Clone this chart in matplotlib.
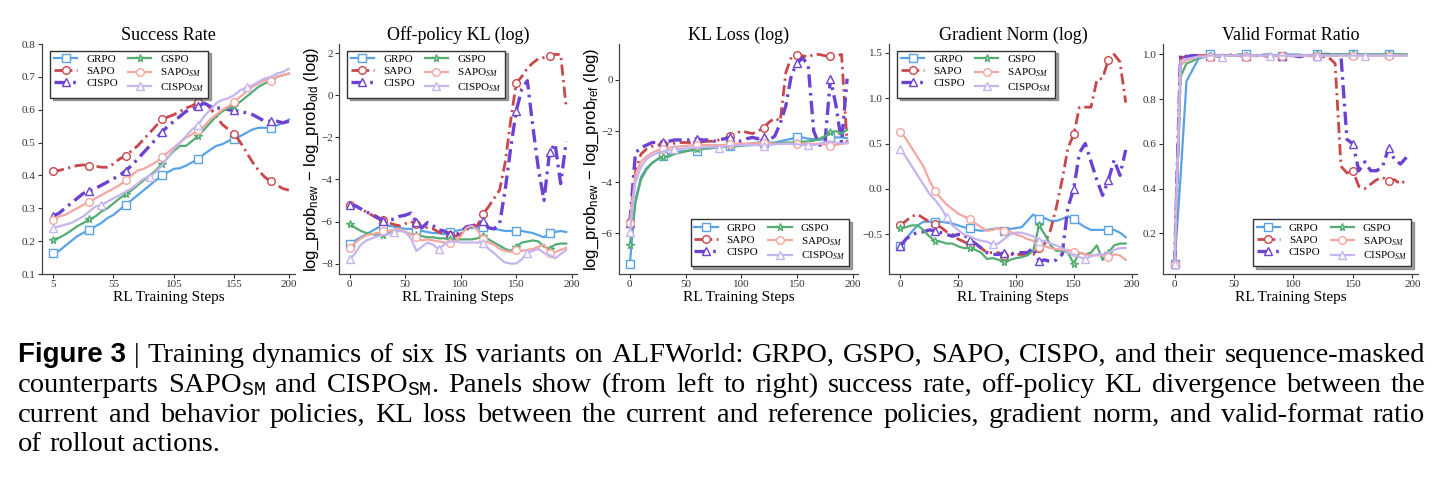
import matplotlib
matplotlib.use("Agg")
import matplotlib.pyplot as plt

plt.rcParams['font.family'] = 'Liberation Serif'
plt.rcParams['mathtext.fontset'] = 'custom'
plt.rcParams['mathtext.rm'] = 'Liberation Serif'
plt.rcParams['mathtext.it'] = 'Liberation Serif:italic'
plt.rcParams['mathtext.sf'] = 'Liberation Sans'
plt.rcParams['mathtext.tt'] = 'Liberation Mono'

# x positions (training steps)
steps_sr = list(range(5, 205, 5))
steps = list(range(0, 200, 5))

methods = ['GRPO', 'SAPO', 'CISPO', 'GSPO', 'SAPO$_{SM}$', 'CISPO$_{SM}$']

# Success Rate
sr_grpo = [0.163, 0.17, 0.185, 0.20, 0.215, 0.225, 0.233, 0.245, 0.255, 0.27,
           0.28, 0.295, 0.31, 0.325, 0.34, 0.355, 0.37, 0.385, 0.40, 0.41,
           0.42, 0.422, 0.43, 0.44, 0.45, 0.465, 0.478, 0.49, 0.495, 0.505,
           0.51, 0.52, 0.53, 0.54, 0.545, 0.545, 0.545, 0.552, 0.56, 0.57]
sr_sapo = [0.415, 0.415, 0.42, 0.425, 0.43, 0.432, 0.429, 0.428, 0.425, 0.425,
           0.435, 0.45, 0.46, 0.475, 0.49, 0.51, 0.53, 0.55, 0.571, 0.578,
           0.585, 0.595, 0.605, 0.612, 0.623, 0.625, 0.605, 0.58, 0.555, 0.54,
           0.526, 0.50, 0.47, 0.44, 0.415, 0.395, 0.382, 0.37, 0.36, 0.355]
sr_cispo = [0.276, 0.285, 0.30, 0.315, 0.33, 0.345, 0.352, 0.36, 0.37, 0.38,
            0.39, 0.40, 0.414, 0.43, 0.45, 0.47, 0.49, 0.51, 0.532, 0.55,
            0.565, 0.58, 0.595, 0.603, 0.61, 0.62, 0.61, 0.605, 0.605, 0.60,
            0.598, 0.595, 0.59, 0.585, 0.575, 0.565, 0.565, 0.565, 0.56, 0.565]
sr_gspo = [0.205, 0.21, 0.22, 0.232, 0.245, 0.255, 0.266, 0.275, 0.29, 0.30,
           0.315, 0.33, 0.342, 0.355, 0.37, 0.385, 0.40, 0.415, 0.435, 0.455,
           0.475, 0.49, 0.49, 0.505, 0.52, 0.54, 0.56, 0.58, 0.595, 0.605,
           0.61, 0.625, 0.64, 0.655, 0.67, 0.68, 0.69, 0.70, 0.705, 0.71]
sr_sapo_sm = [0.265, 0.275, 0.28, 0.29, 0.30, 0.31, 0.32, 0.33, 0.34, 0.35,
              0.36, 0.37, 0.385, 0.40, 0.415, 0.42, 0.43, 0.44, 0.455, 0.47,
              0.485, 0.50, 0.515, 0.525, 0.537, 0.55, 0.57, 0.585, 0.60, 0.61,
              0.625, 0.64, 0.655, 0.67, 0.68, 0.69, 0.688, 0.70, 0.705, 0.71]
sr_cispo_sm = [0.24, 0.245, 0.25, 0.255, 0.265, 0.275, 0.29, 0.305, 0.31, 0.32,
               0.33, 0.34, 0.35, 0.36, 0.375, 0.39, 0.396, 0.41, 0.43, 0.455,
               0.48, 0.50, 0.52, 0.54, 0.554, 0.58, 0.60, 0.62, 0.63, 0.635,
               0.645, 0.66, 0.668, 0.675, 0.685, 0.695, 0.70, 0.71, 0.715, 0.725]

# Off-policy KL (log)
kl_grpo = [-7.08, -6.9, -6.75, -6.6, -6.45, -6.3, -6.2, -6.2, -6.25, -6.3,
           -6.35, -6.35, -6.42, -6.45, -6.5, -6.55, -6.55, -6.6, -6.5, -6.45,
           -6.4, -6.35, -6.3, -6.3, -6.25, -6.3, -6.35, -6.4, -6.45, -6.45,
           -6.44, -6.45, -6.5, -6.55, -6.65, -6.75, -6.57, -6.5, -6.45, -6.5]
kl_sapo = [-5.2, -5.25, -5.4, -5.55, -5.7, -5.85, -5.95, -6.05, -6.15, -6.2,
           -6.1, -6.0, -6.12, -6.2, -6.3, -6.35, -6.5, -6.6, -6.65, -6.7,
           -6.6, -6.4, -6.2, -6.2, -5.64, -5.3, -4.9, -4.5, -3.2, -1.2,
           0.59, 0.9, 1.3, 1.55, 1.75, 1.8, 1.87, 1.95, 1.95, -0.55]
kl_cispo = [-5.23, -5.25, -5.4, -5.55, -5.65, -5.8, -5.96, -5.9, -5.9, -5.75,
            -5.7, -5.6, -6.04, -6.3, -6.05, -6.2, -6.4, -6.45, -6.6, -6.65,
            -6.5, -6.25, -6.2, -6.15, -5.96, -6.3, -6.35, -6.1, -4.5, -2.5,
            -0.73, 0.3, 0.7, -1.5, -3.5, -5.0, -2.7, -2.3, -4.2, -2.2]
kl_gspo = [-6.12, -6.3, -6.45, -6.55, -6.6, -6.65, -6.62, -6.55, -6.4, -6.4,
           -6.5, -6.6, -6.65, -6.7, -6.75, -6.75, -6.8, -6.8, -6.85, -6.85,
           -6.85, -6.85, -6.85, -6.8, -6.68, -6.85, -7.0, -7.15, -7.3, -7.4,
           -7.2, -7.0, -6.95, -6.9, -6.95, -7.2, -7.3, -7.1, -7.05, -7.05]
kl_sapo_sm = [-7.25, -7.0, -6.8, -6.65, -6.6, -6.55, -6.47, -6.45, -6.4, -6.35,
              -6.5, -6.6, -6.76, -6.9, -6.85, -6.9, -6.95, -7.0, -7.0, -6.95,
              -6.7, -6.3, -6.2, -6.4, -6.85, -7.0, -7.1, -7.3, -7.4, -7.45,
              -7.37, -7.4, -7.35, -7.3, -7.2, -7.1, -7.48, -7.45, -7.35, -7.25]
kl_cispo_sm = [-7.8, -7.5, -7.1, -6.9, -6.8, -6.7, -6.65, -6.6, -6.5, -6.45,
               -6.5, -6.8, -7.4, -7.2, -7.0, -7.1, -7.33, -7.1, -6.95, -6.95,
               -7.0, -7.0, -7.0, -7.0, -7.0, -7.3, -7.5, -7.75, -7.95, -8.0,
               -8.0, -7.8, -7.48, -7.4, -7.3, -7.5, -7.6, -7.75, -7.55, -7.35]

# KL Loss (log)
kll_grpo = [-7.19, -4.7, -3.8, -3.45, -3.25, -3.1, -2.97, -2.9, -2.85, -2.8,
            -2.78, -2.75, -2.77, -2.7, -2.68, -2.65, -2.62, -2.6, -2.57, -2.55,
            -2.52, -2.5, -2.48, -2.45, -2.45, -2.45, -2.45, -2.4, -2.35, -2.3,
            -2.24, -2.25, -2.3, -2.32, -2.35, -2.3, -2.24, -2.25, -2.25, -2.28]
kll_sapo = [-5.58, -3.6, -2.9, -2.7, -2.6, -2.55, -2.5, -2.5, -2.48, -2.45,
            -2.45, -2.45, -2.45, -2.42, -2.4, -2.4, -2.35, -2.3, -2.2, -2.1,
            -2.0, -2.05, -2.1, -2.0, -1.88, -1.65, -1.5, -1.6, 0.3, 0.9,
            0.97, 0.95, 0.9, 1.0, 1.0, 0.95, 0.93, 0.95, 1.0, -2.5]
kll_cispo = [-5.6, -2.85, -2.65, -2.55, -2.45, -2.45, -2.42, -2.4, -2.35, -2.35,
             -2.35, -2.35, -2.3, -2.35, -2.35, -2.4, -2.35, -2.3, -2.25, -2.35,
             -2.4, -2.3, -2.25, -2.3, -2.25, -2.35, -2.2, -1.7, -1.0, 0.2,
             0.66, 0.86, 0.6, -2.0, -2.55, -2.5, 0.05, -1.0, -2.45, 0.05]
kll_gspo = [-6.46, -4.8, -3.9, -3.5, -3.25, -3.1, -3.0, -3.0, -2.9, -2.85,
            -2.8, -2.75, -2.72, -2.7, -2.68, -2.66, -2.64, -2.62, -2.6, -2.6,
            -2.58, -2.56, -2.55, -2.52, -2.5, -2.5, -2.48, -2.46, -2.45, -2.45,
            -2.45, -2.42, -2.4, -2.38, -2.3, -2.2, -2.05, -2.0, -2.1, -1.95]
kll_sapo_sm = [-5.6, -3.7, -3.2, -3.0, -2.85, -2.75, -2.7, -2.65, -2.62, -2.6,
               -2.58, -2.56, -2.55, -2.55, -2.55, -2.55, -2.55, -2.55, -2.52, -2.5,
               -2.5, -2.5, -2.48, -2.48, -2.45, -2.47, -2.5, -2.5, -2.5, -2.5,
               -2.52, -2.5, -2.5, -2.5, -2.5, -2.52, -2.6, -2.55, -2.5, -2.48]
kll_cispo_sm = [-5.95, -4.0, -3.4, -3.1, -2.95, -2.85, -2.8, -2.75, -2.72, -2.7,
                -2.68, -2.66, -2.65, -2.64, -2.63, -2.62, -2.65, -2.6, -2.58, -2.56,
                -2.55, -2.55, -2.55, -2.55, -2.6, -2.55, -2.52, -2.5, -2.5, -2.5,
                -2.52, -2.55, -2.55, -2.55, -2.5, -2.45, -2.42, -2.45, -2.5, -2.45]

# Gradient Norm (log)
gn_grpo = [-0.63, -0.55, -0.47, -0.4, -0.36, -0.36, -0.36, -0.36, -0.37, -0.38,
           -0.4, -0.42, -0.43, -0.45, -0.46, -0.45, -0.44, -0.43, -0.46, -0.44,
           -0.43, -0.42, -0.35, -0.28, -0.33, -0.32, -0.35, -0.35, -0.33, -0.3,
           -0.33, -0.38, -0.42, -0.45, -0.45, -0.45, -0.45, -0.45, -0.48, -0.53]
gn_sapo = [-0.4, -0.35, -0.3, -0.28, -0.32, -0.36, -0.39, -0.42, -0.47, -0.5,
           -0.55, -0.58, -0.61, -0.6, -0.65, -0.7, -0.7, -0.7, -0.74, -0.72,
           -0.72, -0.72, -0.72, -0.72, -0.65, -0.6, -0.45, -0.2, 0.1, 0.45,
           0.6, 0.9, 0.9, 0.9, 1.2, 1.22, 1.42, 1.48, 1.4, 0.95]
gn_cispo = [-0.63, -0.55, -0.5, -0.48, -0.47, -0.45, -0.46, -0.48, -0.5, -0.52,
            -0.5, -0.5, -0.56, -0.6, -0.65, -0.7, -0.72, -0.72, -0.7, -0.72,
            -0.7, -0.7, -0.7, -0.65, -0.79, -0.78, -0.8, -0.78, -0.72, -0.2,
            0.0, 0.4, 0.5, 0.3, 0.1, -0.07, 0.1, 0.32, 0.15, 0.43]
gn_gspo = [-0.43, -0.42, -0.4, -0.4, -0.45, -0.52, -0.57, -0.58, -0.6, -0.6,
           -0.63, -0.65, -0.65, -0.67, -0.7, -0.77, -0.76, -0.78, -0.8, -0.78,
           -0.76, -0.75, -0.73, -0.68, -0.4, -0.5, -0.62, -0.68, -0.68, -0.7,
           -0.82, -0.7, -0.72, -0.7, -0.62, -0.78, -0.7, -0.62, -0.6, -0.6]
gn_sapo_sm = [0.63, 0.55, 0.45, 0.35, 0.25, 0.1, -0.02, -0.1, -0.17, -0.22,
              -0.27, -0.3, -0.33, -0.38, -0.42, -0.46, -0.45, -0.43, -0.46, -0.47,
              -0.5, -0.52, -0.55, -0.57, -0.64, -0.63, -0.65, -0.66, -0.67, -0.67,
              -0.69, -0.7, -0.72, -0.73, -0.73, -0.73, -0.75, -0.72, -0.73, -0.78]
gn_cispo_sm = [0.44, 0.35, 0.25, 0.15, 0.05, -0.05, -0.12, -0.2, -0.31, -0.4,
               -0.45, -0.5, -0.52, -0.55, -0.57, -0.58, -0.61, -0.6, -0.55, -0.5,
               -0.48, -0.48, -0.5, -0.52, -0.57, -0.57, -0.6, -0.62, -0.65, -0.7,
               -0.72, -0.75, -0.77, -0.74, -0.72, -0.72, -0.7, -0.67, -0.65, -0.65]

# Valid Format Ratio
vf_grpo = [0.065, 0.45, 0.88, 0.93, 0.98, 0.99, 1.0, 0.995, 0.995, 0.995,
           0.995, 0.995, 1.0, 0.995, 0.995, 1.0, 1.0, 0.995, 0.995, 1.0,
           1.0, 1.0, 0.995, 0.995, 1.0, 1.0, 1.0, 1.0, 1.0, 1.0,
           1.0, 1.0, 1.0, 1.0, 1.0, 1.0, 1.0, 1.0, 1.0, 1.0]
vf_sapo = [0.065, 0.985, 0.99, 0.99, 0.995, 0.995, 0.99, 0.995, 0.995, 0.995,
           0.995, 0.995, 0.99, 0.995, 0.995, 0.995, 0.99, 0.995, 0.995, 0.995,
           0.995, 0.995, 0.995, 0.995, 0.995, 0.99, 0.985, 0.96, 0.5, 0.47,
           0.48, 0.41, 0.40, 0.42, 0.44, 0.45, 0.435, 0.44, 0.42, 0.44]
vf_cispo = [0.065, 1.0, 0.99, 0.995, 0.995, 0.99, 0.995, 0.995, 0.99, 0.995,
            1.0, 0.995, 0.995, 0.995, 0.995, 0.995, 0.995, 0.995, 0.995, 0.995,
            0.995, 0.99, 0.995, 0.995, 0.995, 1.0, 1.0, 1.0, 0.99, 0.62,
            0.6, 0.48, 0.52, 0.48, 0.48, 0.5, 0.58, 0.53, 0.51, 0.54]
vf_gspo = [0.065, 0.9, 0.96, 0.97, 0.985, 0.99, 0.995, 0.995, 0.995, 0.995,
           0.995, 1.0, 0.995, 0.995, 0.995, 0.995, 1.0, 0.995, 0.995, 0.995,
           0.995, 0.995, 0.995, 0.995, 1.0, 1.0, 1.0, 1.0, 1.0, 1.0,
           1.0, 1.0, 1.0, 1.0, 1.0, 1.0, 1.0, 1.0, 1.0, 1.0]
vf_sapo_sm = [0.065, 0.95, 0.975, 0.98, 0.99, 0.99, 0.99, 0.995, 0.995, 0.995,
              0.995, 0.995, 0.99, 0.995, 0.995, 0.995, 0.995, 0.995, 0.995, 0.995,
              0.995, 0.995, 0.995, 0.995, 0.995, 0.995, 0.995, 0.995, 0.995, 0.995,
              0.995, 0.995, 0.995, 0.995, 0.995, 0.995, 0.995, 0.995, 0.995, 0.995]
vf_cispo_sm = [0.065, 0.97, 0.98, 0.985, 0.99, 0.99, 0.995, 0.995, 0.99, 0.995,
               0.995, 0.995, 0.995, 0.995, 0.995, 0.995, 0.995, 0.995, 0.995, 0.995,
               0.995, 0.995, 0.995, 0.995, 0.995, 0.995, 0.995, 0.995, 0.995, 0.995,
               0.995, 0.995, 0.995, 0.995, 0.995, 0.995, 0.995, 0.995, 0.995, 0.995]

# line styles, one per method
dashdot = (0, (4, 1.6, 0.8, 1.6))
styles = [
    dict(color='#5aa2e6', ls='-', lw=1.6, marker='s', every=6),
    dict(color='#c9474a', ls=dashdot, lw=2.0, marker='o', every=6),
    dict(color='#6c42d2', ls=dashdot, lw=2.4, marker='^', every=6),
    dict(color='#53ad72', ls='-', lw=1.6, marker='*', every=6),
    dict(color='#f5a6a0', ls='-', lw=1.6, marker='o', every=6),
    dict(color='#c6b4ee', ls='-', lw=1.6, marker='^', every=8),
]

W, H = 1444, 493
fig = plt.figure(figsize=(W / 100, H / 100), dpi=100)


def add_panel(left, right, x, series, title, yticks, legend_loc, legend_anchor,
              ylabel=None, xticks=(0, 50, 100, 150, 200), xlim=None, ylim=None):
    ax = fig.add_axes([left / W, 1 - 274 / H, (right - left) / W, 230 / H])
    for name, y, st in zip(methods, series, styles):
        ax.plot(x, y, color=st['color'], linestyle=st['ls'], linewidth=st['lw'],
                marker=st['marker'], markevery=st['every'], markersize=5.5,
                markerfacecolor='white', markeredgewidth=1.0, label=name)
    ax.set_title(title, fontsize=13, pad=3)
    ax.set_xlabel('RL Training Steps', fontsize=11, labelpad=1)
    if ylabel:
        ax.set_ylabel(ylabel, fontsize=12, family='Liberation Sans', labelpad=0)
    ax.set_xticks(list(xticks))
    ax.set_yticks(yticks)
    if xlim:
        ax.set_xlim(xlim)
    if ylim:
        ax.set_ylim(ylim)
    ax.tick_params(labelsize=8, length=3, width=0.8, direction='out', pad=1.5,
                   colors='#333333')
    for side in ['top', 'right']:
        ax.spines[side].set_visible(False)
    for side in ['left', 'bottom']:
        ax.spines[side].set_color('#444444')
        ax.spines[side].set_linewidth(0.9)
    ax.legend(ncol=2, loc=legend_loc, bbox_to_anchor=legend_anchor, fontsize=8,
              fancybox=False, shadow=True, framealpha=1, edgecolor='#333333',
              handlelength=2.1, handletextpad=0.8, columnspacing=0.9,
              labelspacing=0.2, borderpad=0.35, numpoints=1)
    return ax


add_panel(42, 295, steps_sr,
          [sr_grpo, sr_sapo, sr_cispo, sr_gspo, sr_sapo_sm, sr_cispo_sm],
          'Success Rate', [0.1, 0.2, 0.3, 0.4, 0.5, 0.6, 0.7, 0.8],
          'upper left', (0.01, 0.995),
          xticks=(5, 55, 105, 155, 200), xlim=(-4, 205), ylim=(0.1, 0.8))
add_panel(339, 577, steps,
          [kl_grpo, kl_sapo, kl_cispo, kl_gspo, kl_sapo_sm, kl_cispo_sm],
          'Off-policy KL (log)', [-8, -6, -4, -2, 0, 2],
          'upper left', (0.01, 0.995),
          ylabel='log_prob$_{\\mathsf{new}}$ \u2212 log_prob$_{\\mathsf{old}}$ (log)')
add_panel(619, 858, steps,
          [kll_grpo, kll_sapo, kll_cispo, kll_gspo, kll_sapo_sm, kll_cispo_sm],
          'KL Loss (log)', [-6, -4, -2, 0],
          'lower right', (0.985, 0.01),
          ylabel='log_prob$_{\\mathsf{new}}$ \u2212 log_prob$_{\\mathsf{ref}}$ (log)')
add_panel(889, 1137, steps,
          [gn_grpo, gn_sapo, gn_cispo, gn_gspo, gn_sapo_sm, gn_cispo_sm],
          'Gradient Norm (log)', [-0.5, 0.0, 0.5, 1.0, 1.5],
          'upper left', (0.01, 0.995))
add_panel(1163, 1418, steps,
          [vf_grpo, vf_sapo, vf_cispo, vf_gspo, vf_sapo_sm, vf_cispo_sm],
          'Valid Format Ratio', [0.2, 0.4, 0.6, 0.8, 1.0],
          'lower right', (0.995, 0.01))

# Caption (justified lines)
renderer = fig.canvas.get_renderer()
cap_size = 20.5
serif = dict(fontsize=cap_size, family='Liberation Serif')

caption_lines = [
    'Training dynamics of six IS variants on ALFWorld: GRPO, GSPO, SAPO, CISPO, and their sequence-masked',
    'counterparts SAPO$_{\\mathtt{SM}}$ and CISPO$_{\\mathtt{SM}}$. Panels show (from left to right) success rate, '
    'off-policy KL divergence between the',
    'current and behavior policies, KL loss between the current and reference policies, gradient norm, '
    'and valid-format ratio',
    'of rollout actions.',
]
baselines = [362, 392, 422, 451]


def put_line(text, y_px, x0, x1, justify=True):
    words = text.split(' ')
    objs = [fig.text(0, 1 - y_px / H, w, va='baseline', ha='left', **serif) for w in words]
    widths = [o.get_window_extent(renderer).width for o in objs]
    gap = (x1 - x0 - sum(widths)) / (len(objs) - 1) if justify else cap_size * 100 / 72 * 0.25
    x = x0
    for o, w in zip(objs, widths):
        o.set_x(x / W)
        x += w + gap


fig.text(18 / W, 1 - baselines[0] / H, 'Figure 3', va='baseline', ha='left',
         fontsize=cap_size - 0.5, family='Liberation Sans', weight='bold')
fig.text(134 / W, 1 - baselines[0] / H, '|', va='baseline', ha='left', **serif)
put_line(caption_lines[0], baselines[0], 147, 1425)
put_line(caption_lines[1], baselines[1], 18, 1425)
put_line(caption_lines[2], baselines[2], 18, 1425)
put_line(caption_lines[3], baselines[3], 18, 1425, justify=False)

fig.savefig('out.png', dpi=100)
plt.close()
